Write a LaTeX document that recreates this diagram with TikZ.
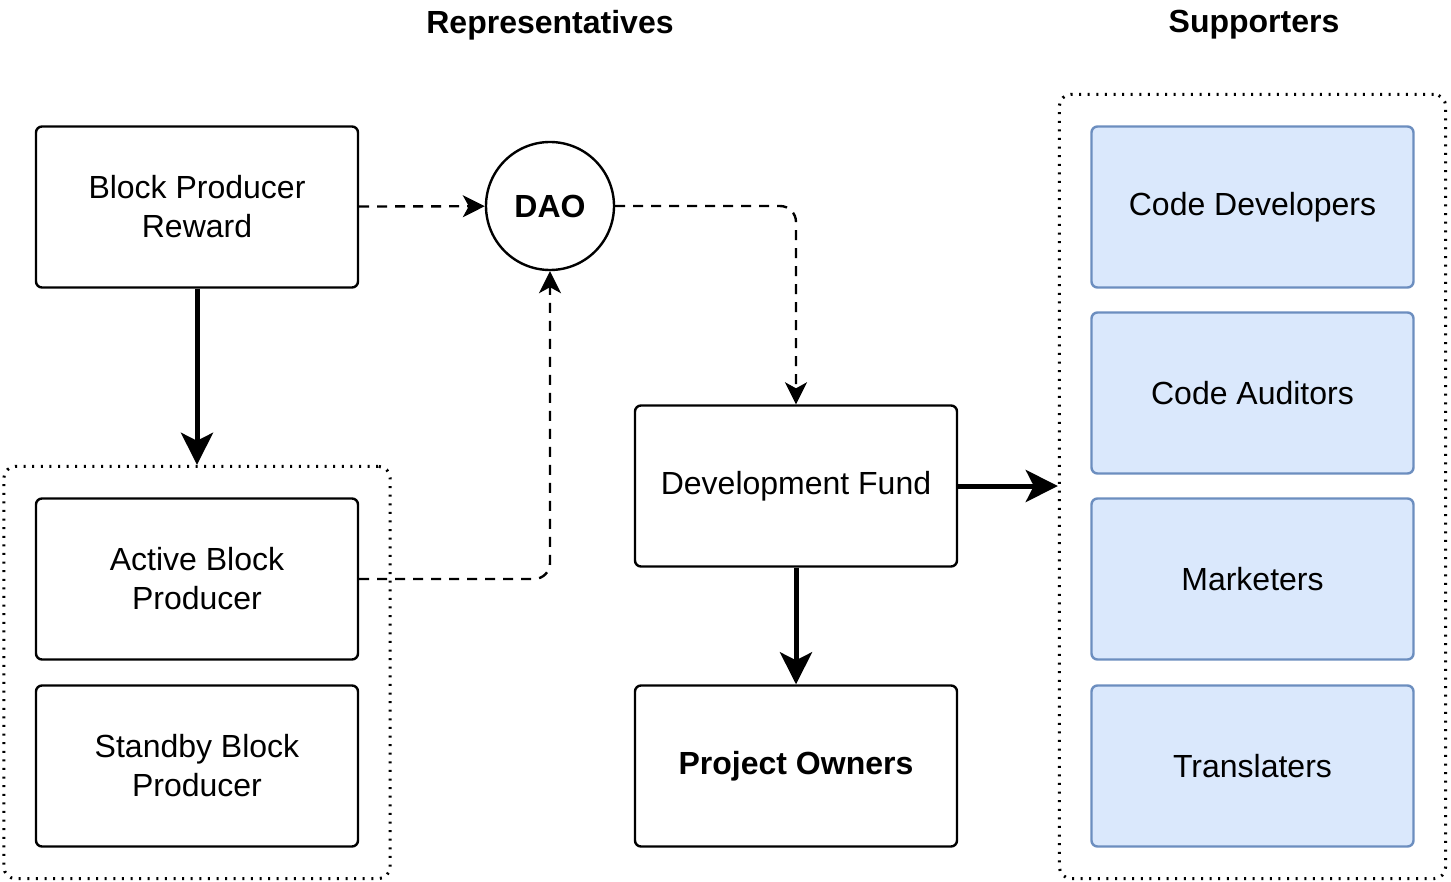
\documentclass[tikz,border=0pt]{standalone}
\usepackage{fontspec}
\setmainfont{Liberation Sans}
\usetikzlibrary{arrows.meta,positioning,fit}
\definecolor{sc}{HTML}{DAE8FC}
\definecolor{sd}{HTML}{6C8EBF}
\tikzset{bx/.style={draw,line width=1.2pt,rounded corners=3pt,minimum width=161pt,minimum height=80.5pt,align=center,inner sep=2pt},
 sp/.style={bx,draw=sd,fill=sc},
 dao/.style={draw,circle,line width=1.2pt,minimum size=64pt,inner sep=0pt,font=\fontsize{16}{19.5}\selectfont\bfseries},
 grp/.style={draw,line width=1.5pt,dash pattern=on 1pt off 3.3pt,rounded corners=6pt,inner sep=15.5pt},
 thk/.style={-{Stealth[length=16pt,width=16pt,inset=4pt]},line width=2.5pt},
 dsh/.style={-{Stealth[length=11pt,width=11pt,inset=3pt]},line width=1.2pt,dash pattern=on 5pt off 4pt},
 ttl/.style={font=\fontsize{16}{19.5}\selectfont\bfseries},
 every node/.style={font=\fontsize{16}{19.5}\selectfont}}
\begin{document}
\begin{tikzpicture}[x=.5pt,y=-.5pt]
\useasboundingbox (0,0) rectangle (1451,882);
\node[ttl] (rep) at (550,25) {Representatives};
\node[ttl] (sup) at (1254,25) {Supporters};
% left side
\node[bx] (bpr) at (197,207) {Block Producer\\Reward};
\node[bx] (abp) at (197,579) {Active Block\\Producer};
\node[bx] (sbp) at (197,766) {Standby Block\\Producer};
\node[grp,fit=(abp)(sbp)] (gl) {};
\node[dao] (d) at (550,206) {DAO};
% middle
\node[bx] (fund) at (796,486) {Development Fund};
\node[bx,font=\fontsize{16}{19.5}\selectfont\bfseries] (own) at (796,766) {Project Owners};
% supporters
\node[sp] (cd) at (1252.5,207) {Code Developers};
\node[sp] (ca) at (1252.5,393) {Code Auditors};
\node[sp] (mk) at (1252.5,579) {Marketers};
\node[sp] (tr) at (1252.5,766) {Translaters};
\node[grp,fit=(cd)(tr)] (gr) {};
% connectors
\draw[thk] (bpr.south) -- (bpr.south |- gl.north);
\draw[thk] (fund.east) -- (fund.east -| gr.west);
\draw[thk] (fund) -- (own);
\draw[dsh] (bpr) -- (d);
\draw[dsh,rounded corners=8pt] (d.east) -| (fund.north);
\draw[dsh,rounded corners=8pt] (abp.east) -| (d.south);
\end{tikzpicture}
\end{document}
